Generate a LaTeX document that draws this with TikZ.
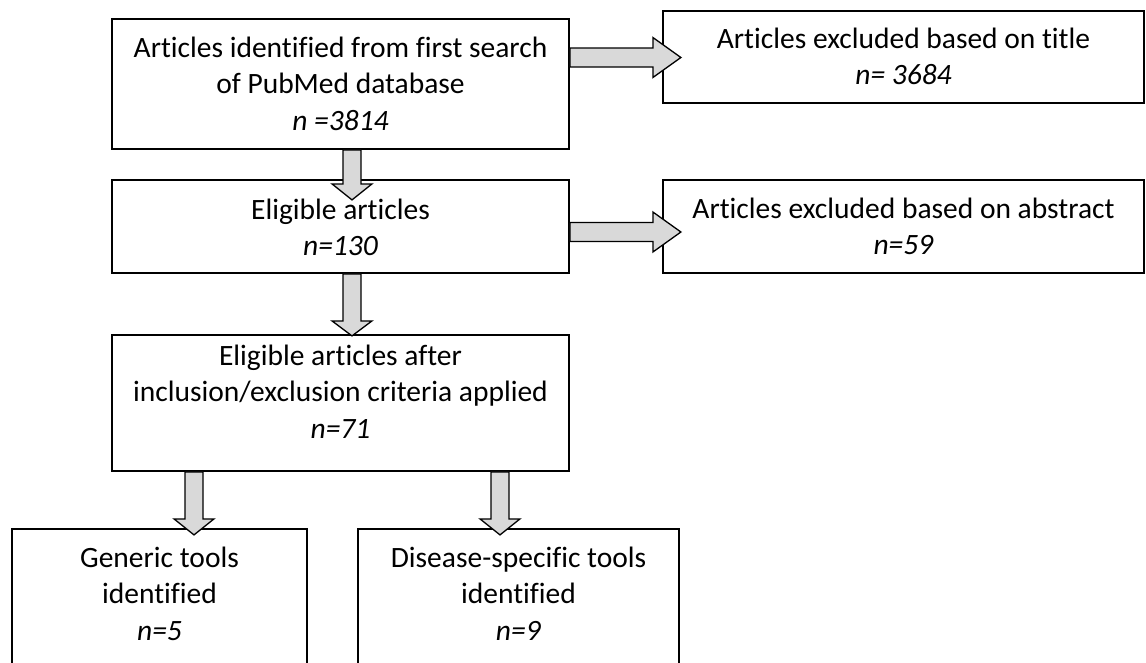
\documentclass[tikz,border=0pt]{standalone}
\usepackage{fontspec}
\setmainfont{Carlito}[Ligatures={NoCommon}]
\definecolor{arrowgray}{HTML}{D9D9D9}
\begin{document}
\begin{tikzpicture}[x=1pt,y=-1pt,
  box/.style={draw=black, line width=1.8pt, fill=white, inner sep=0pt},
  txt/.style={align=center, inner sep=0pt, font=\fontsize{29.5}{36.5}\selectfont},
  blk/.style={draw=black, line width=1.3pt, fill=arrowgray, line join=miter}]
\useasboundingbox (0,0) rectangle (1146,662);
\clip (0,0) rectangle (1146,662);
% boxes
\node[box, minimum width=457pt, minimum height=130pt] (b1) at (340.5,84) {};
\node[box, minimum width=457pt, minimum height=93pt] (b2) at (340.5,226.5) {};
\node[box, minimum width=481pt, minimum height=92pt] (r1) at (903.5,57) {};
\node[box, minimum width=481pt, minimum height=93pt] (r2) at (903.5,226.5) {};
\node[box, minimum width=457pt, minimum height=136pt] (b3) at (340.5,403) {};
\node[box, minimum width=295pt, minimum height=150pt] (b4) at (159.5,604) {};
\node[box, minimum width=321pt, minimum height=150pt] (b5) at (518.5,604) {};
% texts
\node[txt] (t1) at (340.5,86.5) {\strut Articles identified from first search\\ \strut of PubMed database\\ \strut\textit{n =3814}};
\node[txt] (t2) at (340.5,230) {\strut Eligible articles\\ \strut\textit{n=130}};
\node[txt] (tr1) at (903.5,59) {\strut Articles excluded based on title\\ \strut\textit{n= 3684}};
\node[txt] (tr2) at (903.5,229) {\strut Articles excluded based on abstract\\ \strut\textit{n=59}};
\node[txt] (t3) at (340.5,394.5) {\strut Eligible articles after\\ \strut inclusion/exclusion criteria applied\\ \strut\textit{n=71}};
\node[txt] (t4) at (159.5,596.5) {\strut Generic tools\\ \strut identified\\ \strut\textit{n=5}};
\node[txt] (t5) at (518.5,596.5) {\strut Disease-specific tools\\ \strut identified\\ \strut\textit{n=9}};
% block arrows: down
\draw[blk] ([xshift=11.5pt]b1.south) ++(-9,0) -- ++(0,34) -- ++(-11,0) -- ++(20,16) -- ++(20,-16) -- ++(-11,0) -- ++(0,-34) -- cycle;
\draw[blk] ([xshift=11.5pt]b2.south) ++(-9,0) -- ++(0,47) -- ++(-11,0) -- ++(20,15) -- ++(20,-15) -- ++(-11,0) -- ++(0,-47) -- cycle;
\draw[blk] ([xshift=-146.5pt]b3.south) ++(-9,0) -- ++(0,47) -- ++(-11,0) -- ++(20,16) -- ++(20,-16) -- ++(-11,0) -- ++(0,-47) -- cycle;
\draw[blk] ([xshift=159.5pt]b3.south) ++(-9,0) -- ++(0,47) -- ++(-11,0) -- ++(20,16) -- ++(20,-16) -- ++(-11,0) -- ++(0,-47) -- cycle;
% block arrows: right
\draw[blk] ([yshift=26.5pt]b1.east) ++(0,-9.5) -- ++(83,0) -- ++(0,-10.5) -- ++(28,20) -- ++(-28,20) -- ++(0,-10.5) -- ++(-83,0) -- cycle;
\draw[blk] ([yshift=-5.5pt]b2.east) ++(0,-9.5) -- ++(83,0) -- ++(0,-10.5) -- ++(28,20) -- ++(-28,20) -- ++(0,-10.5) -- ++(-83,0) -- cycle;
\end{tikzpicture}
\end{document}
